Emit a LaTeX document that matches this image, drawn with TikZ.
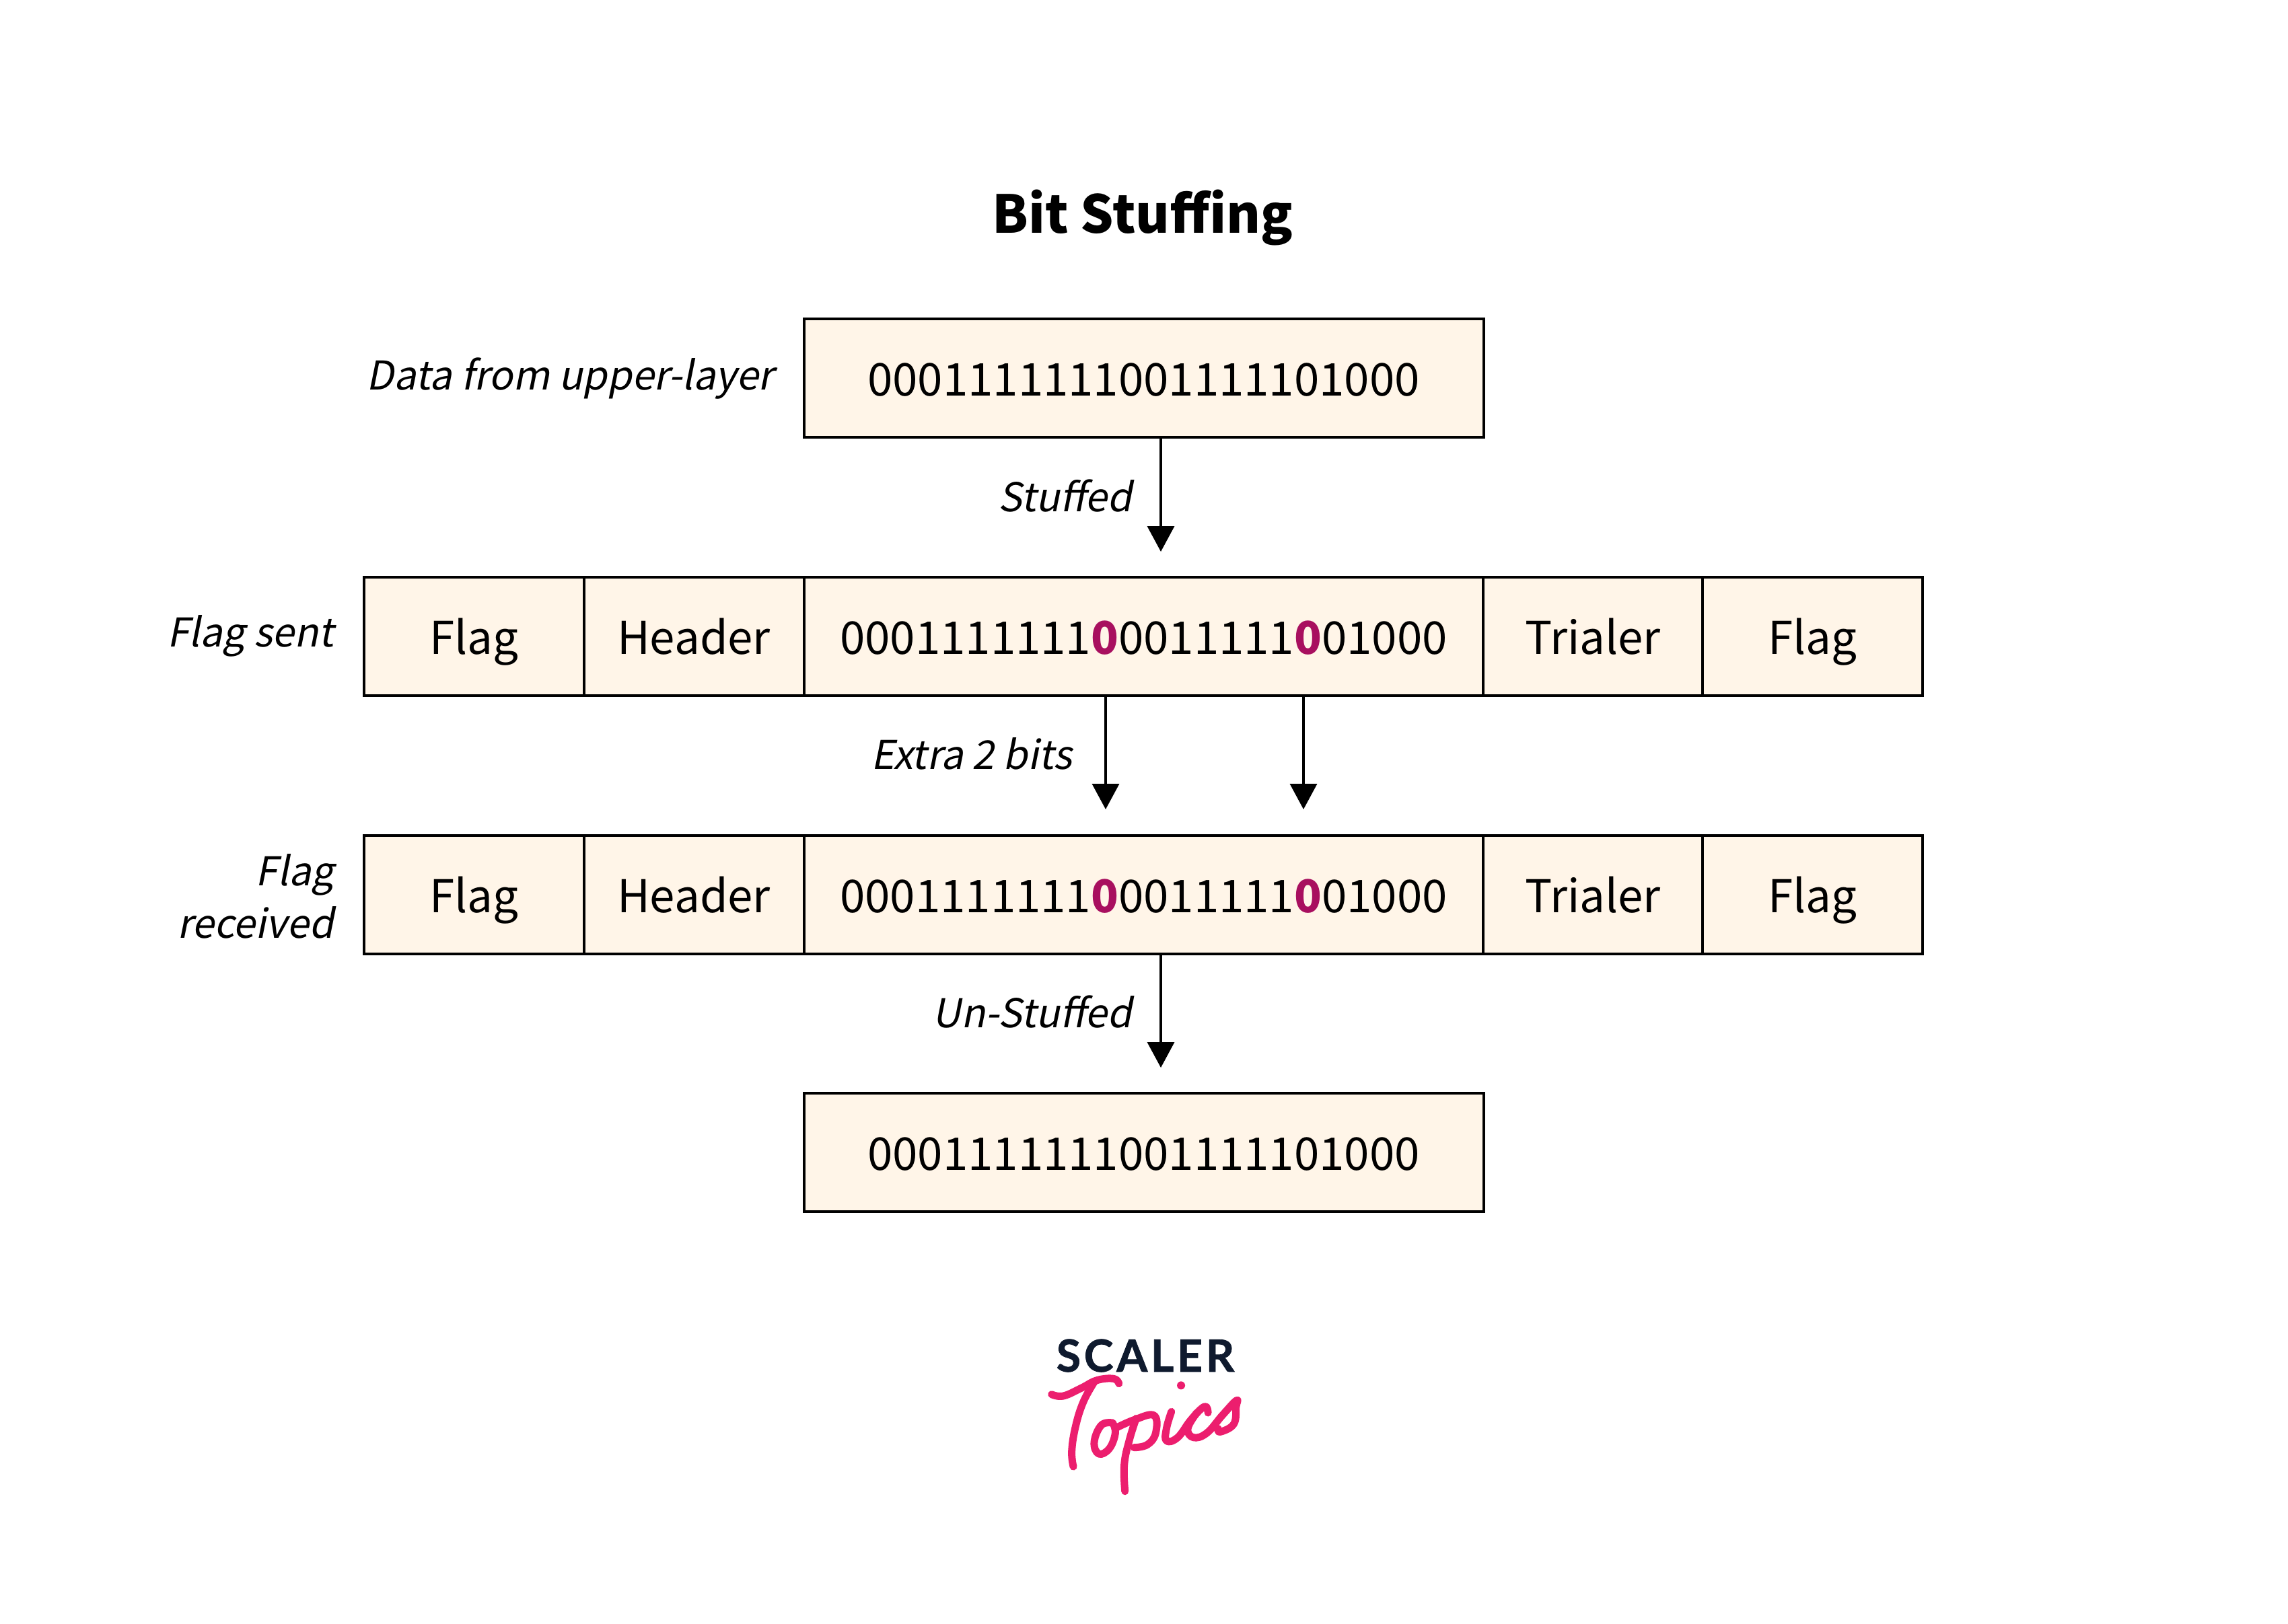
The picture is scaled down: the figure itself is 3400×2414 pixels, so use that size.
\documentclass[tikz,border=0pt]{standalone}
\usepackage{fontspec}
\usetikzlibrary{arrows.meta}
\setmainfont{Noto Sans CJK SC}
\newfontfamily\slantfont[FakeSlant=0.2]{Noto Sans CJK SC}
\newfontfamily\logofont[BoldFeatures={FakeBold=1.2}]{Lato}
\definecolor{cellfill}{HTML}{FFF5E8}
\definecolor{stuffbit}{HTML}{A80F5F}
\definecolor{logonavy}{HTML}{0F1A2E}
\definecolor{logopink}{HTML}{EC1E6E}
\newcommand{\sbit}{\textcolor{stuffbit}{\textbf{0}}}
\tikzset{
  cell/.style={draw=black,fill=cellfill,line width=2pt,inner sep=0pt,text height=31pt,text depth=5pt,align=center,font=\fontsize{33.6}{42}\selectfont},
  w150/.style={cell,minimum width=163.5pt,minimum height=88pt},
  wdata/.style={cell,minimum width=505pt,minimum height=88pt},
  lab/.style={inner sep=0pt,anchor=east,align=right,font=\fontsize{29.5}{39}\selectfont\slantfont},
  arr/.style={line width=1.75pt,-{Triangle[length=19pt,width=20pt]},shorten >=0pt},
  ttl/.style={inner sep=0pt,font=\fontsize{38.8}{50}\selectfont\bfseries},
  logostroke/.style={draw=logopink,line width=5.5pt,line cap=round,line join=round}
}
\begin{document}
\begin{tikzpicture}[x=0.5pt,y=-0.5pt]
\useasboundingbox (0,0) rectangle (3400,2414);
\fill[white] (0,0) rectangle (3400,2414);
\node[ttl] (title) at (1698,324) {Bit Stuffing};
\node[wdata] (top) at (1699.5,562) {0001111111001111101000};
\node[lab] (ldata) at (1150,563) {Data from upper-layer};
% row 2
\node[w150] (f1) at (704,946) {Flag};
\node[w150] (h1) at (1031,946) {Header};
\node[wdata] (d1) at (1699.5,946) {0001111111\sbit0011111\sbit01000};
\node[w150] (t1) at (2367,946) {Trialer};
\node[w150] (g1) at (2693,946) {Flag};
\node[lab] (lsent) at (496,945) {Flag sent};
% row 3
\node[w150] (f2) at (704,1330) {Flag};
\node[w150] (h2) at (1031,1330) {Header};
\node[wdata] (d2) at (1699.5,1330) {0001111111\sbit0011111\sbit01000};
\node[w150] (t2) at (2367,1330) {Trialer};
\node[w150] (g2) at (2693,1330) {Flag};
\node[lab] (lrec) at (496,1332) {Flag\\received};
% bottom
\node[wdata] (bot) at (1699.5,1713) {0001111111001111101000};
% connectors
\coordinate (e1) at (1725,820);
\coordinate (e2) at (1643,1203);
\coordinate (e3) at (1937,1203);
\coordinate (e4) at (1725,1587);
\draw[arr] (top.south -| e1) -- (e1);
\draw[arr] (d1.south -| e2) -- (e2);
\draw[arr] (d1.south -| e3) -- (e3);
\draw[arr] (d2.south -| e4) -- (e4);
\node[lab] (lst) at (1682,737) {Stuffed};
\node[lab] (lex) at (1593,1120) {Extra 2 bits};
\node[lab] (lun) at (1682,1504) {Un-Stuffed};
% logo
\node[inner sep=0pt,text=logonavy,font=\fontsize{33}{40}\selectfont\logofont\bfseries] (scaler) at (1702,2015) {S\kern2.4pt C\kern2.4pt A\kern2.4pt L\kern2.4pt E\kern2.4pt R};
\begin{scope}[shift={(1500,1960)},x=0.1667pt,y=-0.1667pt]
\draw[logostroke] plot[smooth,tension=0.7] coordinates {(188,338) (240,345) (320,310) (390,275) (465,268) (488,290)};
\draw[logostroke] plot[smooth,tension=0.7] coordinates {(380,280) (330,370) (295,480) (278,590) (285,660)};
\draw[logostroke] plot[smooth,tension=0.7] coordinates {(460,465) (410,475) (378,550) (398,603) (445,580) (472,510) (460,465)};
\draw[logostroke] plot[smooth,tension=0.7] coordinates {(565,445) (535,540) (512,650) (515,770)};
\draw[logostroke] plot[smooth,tension=0.7] coordinates {(470,490) (560,450) (645,432) (652,510) (615,562) (555,575)};
\draw[logostroke] plot[smooth,tension=0.7] coordinates {(722,415) (700,490) (700,545) (750,530) (810,450) (870,392) (885,420)};
\draw[logostroke] plot[smooth,tension=0.7] coordinates {(835,420) (795,490) (820,530) (880,510) (950,430) (1012,365) (1010,395) (1000,470) (940,505) (930,490)};
\fill[logopink] (765,298) circle[radius=18];
\end{scope}
\end{tikzpicture}
\end{document}
